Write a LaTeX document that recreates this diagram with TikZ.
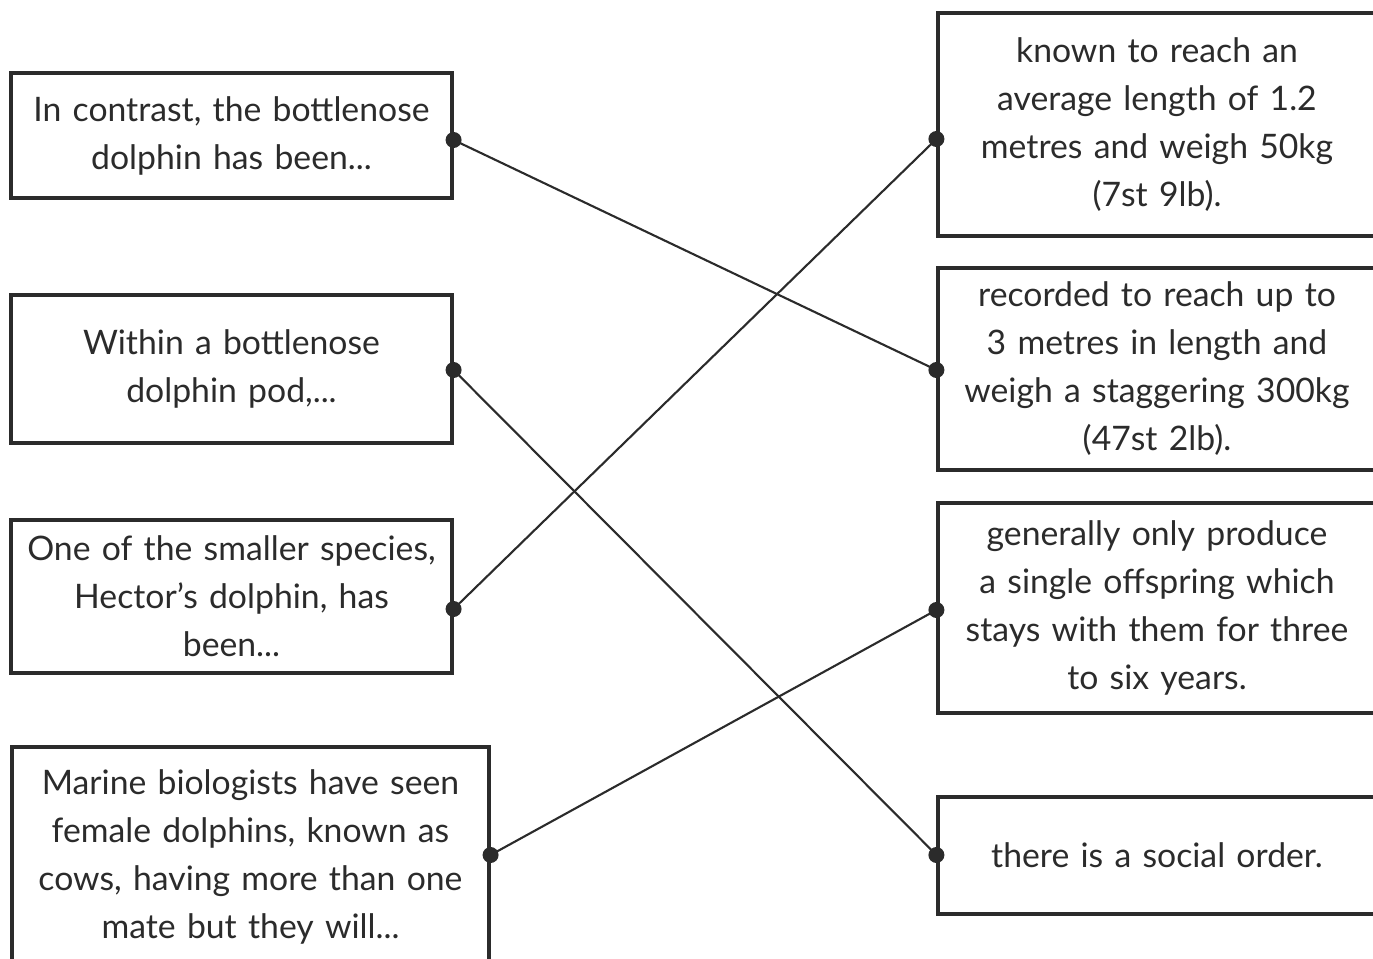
\documentclass[tikz,border=0pt]{standalone}
\usepackage{fontspec}
\setmainfont{Lato}
\usetikzlibrary{shapes,arrows,positioning}

\definecolor{inkgray}{HTML}{2B2B2B}

\tikzset{
    card/.style={draw=inkgray, line width=0.9pt, text=inkgray, align=center,
        inner sep=0pt, font=\fontsize{9.6}{13.66}\selectfont},
    link/.style={draw=inkgray, line width=0.6pt},
    knob/.style={fill=inkgray}
}

\begin{document}
\begin{tikzpicture}
    \useasboundingbox (0,0) rectangle (13.73,-9.59);

    % Sentence starts (left)
    \node[card, minimum width=4.41cm, minimum height=1.25cm, text width=4.3cm] (b1) at (2.315,-1.355)
        {In contrast, the bottlenose\\dolphin has been...};
    \node[card, minimum width=4.41cm, minimum height=1.48cm, text width=4.3cm] (b2) at (2.315,-3.69)
        {Within a bottlenose\\dolphin pod,...};
    \node[card, minimum width=4.41cm, minimum height=1.53cm, text width=4.3cm] (b3) at (2.315,-5.965)
        {One of the smaller species,\\Hector’s dolphin, has\\been...};
    \node[card, minimum width=4.77cm, minimum height=2.2cm, text width=4.6cm] (b4) at (2.505,-8.57)
        {Marine biologists have seen\\female dolphins, known as\\cows, having more than one\\mate but they will...};

    % Sentence endings (right)
    \node[card, minimum width=4.38cm, minimum height=2.23cm, text width=4.3cm] (r1) at (11.57,-1.245)
        {known to reach an\\average length of 1.2\\metres and weigh 50kg\\(7st 9lb).};
    \node[card, minimum width=4.38cm, minimum height=2.02cm, text width=4.3cm] (r2) at (11.57,-3.69)
        {recorded to reach up to\\3 metres in length and\\weigh a staggering 300kg\\(47st 2lb).};
    \node[card, minimum width=4.38cm, minimum height=2.10cm, text width=4.3cm] (r3) at (11.57,-6.08)
        {generally only produce\\a single offspring which\\stays with them for three\\to six years.};
    \node[card, minimum width=4.38cm, minimum height=1.17cm, text width=4.3cm] (r4) at (11.57,-8.555)
        {there is a social order.};

    % Joining points
    \coordinate (d1) at ([yshift=-0.045cm]b1.east);
    \coordinate (d2) at ([yshift=-0.01cm]b2.east);
    \coordinate (d3) at ([yshift=-0.125cm]b3.east);
    \coordinate (d4) at ([yshift=0.02cm]b4.east);
    \coordinate (e1) at ([yshift=-0.145cm]r1.west);
    \coordinate (e2) at ([yshift=-0.01cm]r2.west);
    \coordinate (e3) at ([yshift=-0.02cm]r3.west);
    \coordinate (e4) at ([yshift=0.005cm]r4.west);

    % Matching lines
    \draw[link] (d1) -- (e2);
    \draw[link] (d2) -- (e4);
    \draw[link] (d3) -- (e1);
    \draw[link] (d4) -- (e3);

    % Dots
    \foreach \p in {d1,d2,d3,d4,e1,e2,e3,e4}
        \fill[knob] (\p) circle (0.08cm);
\end{tikzpicture}
\end{document}
